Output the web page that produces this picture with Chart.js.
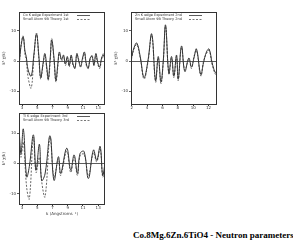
<!DOCTYPE html>
<html><head><meta charset="utf-8">
<script src="https://cdn.jsdelivr.net/npm/chart.js@4/dist/chart.umd.min.js"></script>
<style>
html,body{margin:0;padding:0;background:#fff;width:293px;height:247px;overflow:hidden;position:relative;}
.p{position:absolute;}
#title{position:absolute;left:133px;top:230px;font:bold 9px "Liberation Serif","Times New Roman",serif;color:#000;white-space:nowrap;}
</style></head><body>
<div class="p" style="left:0;top:0;width:107px;height:111px"><canvas id="c1" width="107" height="111"></canvas></div>
<div class="p" style="left:112px;top:0;width:107px;height:111px"><canvas id="c2" width="107" height="111"></canvas></div>
<div class="p" style="left:0;top:101px;width:107px;height:115px"><canvas id="c3" width="107" height="115"></canvas></div>
<div id="title">Co.8Mg.6Zn.6TiO4 - Neutron parameters</div>
<script>
// ---- data ----
const Y_TICKS = [-10, 0, 10];
const P1_XTICKS = [3, 5, 7, 9, 11, 13];
const P2_XTICKS = [2, 4, 6, 8, 10, 12];
const P3_XTICKS = [3, 5, 7, 9, 11, 13];

const P1_LABELS = ["Co K edge Experiment 1st", "Small Atom 9B Theory 1st"];
const P2_LABELS = ["Zn K edge Experiment 2nd", "Small Atom 9B Theory 2nd"];
const P3_LABELS = ["Ti K edge Experiment 3rd", "Small Atom 9B Theory 3rd"];

const P1_K = [2.65,2.9,3.15,3.4,3.55,3.8,4.2,4.55,4.9,5.2,5.45,5.75,6.0,6.25,6.45,6.7,6.9,7.2,7.45,7.7,7.9,8.2,8.45,8.7,8.95,9.2,9.45,9.7,9.95,10.2,10.45,10.7,10.95,11.2,11.45,11.7,11.95,12.2,12.45,12.7,12.95,13.2,13.45,13.7,13.9];
const P1_EXP = [0,5.5,8,3,1.5,-3,-5,2,9,2,-5.5,-1,2.5,-2,-6,1,7,1,-6.5,-1,3,0.5,2,-1,1.5,-1.5,2,-1,-2.5,2.5,0,-2,1,3,-1,-2.5,1,1.5,-1.5,2.5,-0.5,-2,1,2,0];
const P1_TH  = [-1,6,8.3,2,0.5,-5.5,-9,1,9.3,1,-6,-1.5,2,-3,-6.5,0,7.5,0,-7,-2,2.5,0,1.5,-1.5,1,-2,1.5,-1.5,-2,2,0.5,-1.5,0.5,2.5,-1.5,-2,0.5,2,-1,2,-1,-2.5,0.5,2.5,-0.5];

const P2_K = [1.95,2.3,2.65,3.1,3.6,4.1,4.6,5.1,5.45,5.8,6.1,6.4,6.83,7.18,7.48,7.83,8.05,8.48,8.91,9.43,9.78,10.1,10.43,10.99,11.35,11.73,12.07,12.5,12.94,13.1];
const P2_EXP = [1,4.5,6,1.5,-5.5,0,9,-6.5,1.5,-7,0,12,-4,1.5,-5,2,-6,5,-3.5,1,-2,1,4,-4.5,-0.5,3,4,-1,-4,-2];
const P2_TH  = [0.5,4,5.5,1,-6,-0.5,8.5,-7,1,-7.5,-0.5,11.5,-4.5,1,-5.5,1.5,-6.5,4.5,-3,0.5,-2.5,1.5,3.5,-5,0,2.5,3.5,-1.5,-4.5,-2.5];

const P3_K = [2.64,2.86,3.17,3.61,3.96,4.49,4.84,5.28,5.58,6.02,6.68,7.2,7.78,8.08,8.87,9.4,9.84,10.28,10.63,11.15,11.72,12.38,12.82,13.26,13.6,13.9];
const P3_EXP = [10,3.3,11.3,-4.4,-1,9.4,-2.2,6.3,-5.6,-3.5,9.1,-5.6,2.2,-3.3,5,-2.2,2.8,-3.3,3.3,3.9,-5,4.4,1,5.6,-3.9,0];
const P3_TH  = [8,2,7,-8,-11.7,8.5,-3,2,-6,-11,8.5,-4.5,1.5,-4,4,-3,2,-4,2.5,3,-4,3.5,0.5,5,-4.5,-1];

const Y_TITLE = "k\u00B3 \u03C7(k)";
const X_TITLE = "k (Angstroms\u207B\u00B9)";

// ---- drawing ----
const TXT = '#333';
const FONT = {family: 'DejaVu Sans', size: 4};

const framePlugin = {
  id: 'frame',
  afterDatasetsDraw(chart) {
    const a = chart.chartArea, ctx = chart.ctx;
    ctx.save();
    ctx.strokeStyle = '#333'; ctx.lineWidth = 1;
    ctx.strokeRect(Math.round(a.left) + 0.5, Math.round(a.top) + 0.5, Math.round(a.right - a.left) - 1, Math.round(a.bottom - a.top));
    // key
    ctx.font = '3.5px "DejaVu Sans"';
    ctx.fillStyle = TXT; ctx.textBaseline = 'middle';
    chart.data.datasets.forEach((ds, i) => {
      const y = a.top + 3.5 + i * 4;
      ctx.fillText(ds.label, a.left + 4, y);
      ctx.beginPath();
      ctx.setLineDash(ds.borderDash || []);
      ctx.strokeStyle = ds.borderColor; ctx.lineWidth = 0.8;
      ctx.moveTo(a.right - 28, y); ctx.lineTo(a.right - 15, y); ctx.stroke();
      ctx.setLineDash([]);
    });
    ctx.restore();
  }
};

function makeChart(id, K, EXP, TH, labels, xticks, xmin, xmax, ymin, ymax, xTitle) {
  const pts = (arr) => K.map((k, i) => ({x: k, y: arr[i]}));
  return new Chart(document.getElementById(id), {
    type: 'line',
    data: {datasets: [
      {label: labels[0], data: pts(EXP), borderColor: '#333', borderWidth: 1, pointRadius: 0, tension: 0.4, fill: false},
      {label: labels[1], data: pts(TH), borderColor: '#555', borderWidth: 0.9, borderDash: [2, 1.5], pointRadius: 0, tension: 0.4, fill: false}
    ]},
    options: {
      responsive: false, animation: false, devicePixelRatio: 1,
      layout: {padding: {top: 12, right: 2, left: 0, bottom: 0}},
      plugins: {legend: {display: false}, tooltip: {enabled: false}},
      scales: {
        x: {type: 'linear', min: xmin, max: xmax,
          afterBuildTicks: s => { s.ticks = xticks.map(v => ({value: v})); },
          afterFit: s => { s.height = xTitle ? 12 : 7; },
          grid: {color: 'rgba(0,0,0,0)', tickColor: '#333', tickLength: 2, drawOnChartArea: false},
          border: {display: false},
          ticks: {font: FONT, color: TXT, padding: 0, maxRotation: 0, autoSkip: false},
          title: {display: !!xTitle, text: xTitle || '', font: FONT, color: TXT, padding: 0}
        },
        y: {min: ymin, max: ymax,
          afterBuildTicks: s => { s.ticks = Y_TICKS.map(v => ({value: v})); },
          afterFit: s => { s.width = 19; },
          grid: {color: c => (c.tick && c.tick.value === 0) ? '#333' : 'rgba(0,0,0,0)', tickColor: '#333', tickLength: 2, lineWidth: 0.8},
          border: {display: false},
          ticks: {font: FONT, color: TXT, padding: 1, autoSkip: false},
          title: {display: true, text: Y_TITLE, font: FONT, color: TXT, padding: 2}
        }
      }
    },
    plugins: [framePlugin]
  });
}

makeChart('c1', P1_K, P1_EXP, P1_TH, P1_LABELS, P1_XTICKS, 2.6, 13.9, -14.3, 16.3, null);
makeChart('c2', P2_K, P2_EXP, P2_TH, P2_LABELS, P2_XTICKS, 1.9, 13.1, -14.3, 16.3, null);
makeChart('c3', P3_K, P3_EXP, P3_TH, P3_LABELS, P3_XTICKS, 2.6, 13.9, -13.4, 16.6, X_TITLE);
</script>
</body></html>
